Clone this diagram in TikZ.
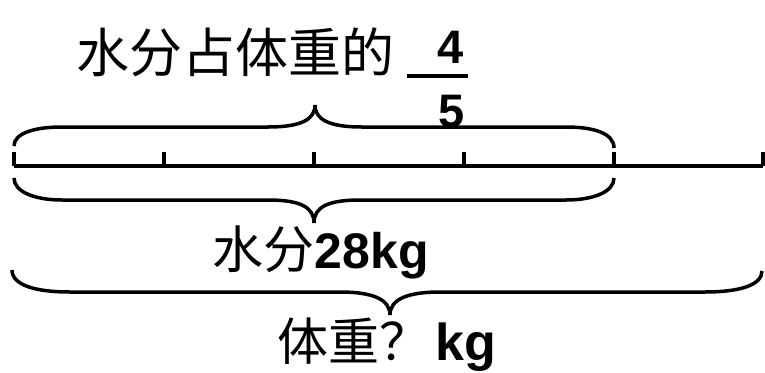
\documentclass[tikz,border=0pt]{standalone}
\usepackage{fontspec}
\setmainfont{Liberation Sans}
\newfontfamily\cjk{Noto Sans CJK SC}
\begin{document}
\begin{tikzpicture}[x=1pt,y=-1pt,line width=3.5pt,
  lbl/.style={inner sep=0pt,anchor=base west},
  digit/.style={inner sep=0pt,font=\fontsize{47}{47}\selectfont\bfseries},
  brace/.style={line width=3.5pt}]
\useasboundingbox (0,0) rectangle (765,372);
% number line
\foreach \i/\x in {0/14,1/164,2/314,3/464,4/614,5/763}{
  \coordinate (t\i) at (\x,166);
  \coordinate (u\i) at (\x,152);
  \draw (t\i) -- (u\i);
}
\draw (t0) -- (t5);
% top brace
\draw[brace] (14,146) .. controls (14,133) and (35,127) .. (62,127) -- (268,127)
  .. controls (300,127) and (315,120) .. (315,105)
  .. controls (315,120) and (330,127) .. (362,127) -- (566,127)
  .. controls (593,127) and (614,133) .. (614,148);
% bottom brace (water)
\draw[brace] (14,178) .. controls (14,192) and (35,200) .. (62,200) -- (268,200)
  .. controls (300,200) and (314,207) .. (314,223)
  .. controls (314,207) and (328,200) .. (360,200) -- (566,200)
  .. controls (593,200) and (614,192) .. (614,178);
% big brace (body weight)
\draw[brace] (12,270) .. controls (12,285) and (35,292) .. (70,292) -- (340,292)
  .. controls (372,292) and (390,299) .. (390,315)
  .. controls (390,299) and (408,292) .. (440,292) -- (705,292)
  .. controls (740,292) and (762,285) .. (762,271);
% title
\node[lbl] (title) at (75,72) {\cjk\fontsize{53}{53}\selectfont 水分占体重的};
\node[digit] (num) at (451,47) {4};
\node[digit] (den) at (452,112) {5};
\coordinate (barL) at (407,76);
\coordinate (barR) at (468,76);
\draw[line width=4.5pt] (barL) -- (barR);
% labels
\node[lbl] (water) at (211,268) {{\cjk\fontsize{51}{51}\selectfont 水分}{\fontsize{50}{50}\selectfont\bfseries 28kg}};
\node[lbl] (body) at (276,360) {{\cjk\fontsize{51}{51}\selectfont 体重？}{\fontsize{52}{52}\selectfont\bfseries\hspace{5pt}kg}};
\end{tikzpicture}
\end{document}
